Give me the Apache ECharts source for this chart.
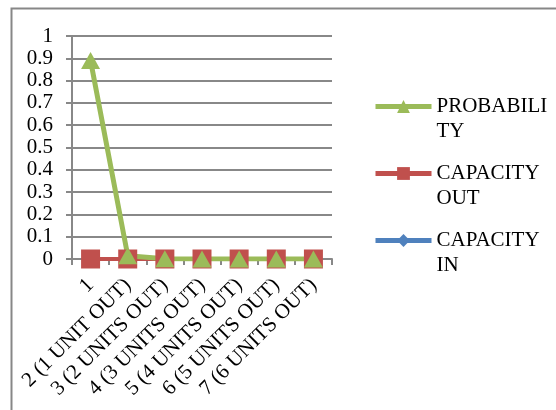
<!DOCTYPE html>
<html>
<head>
<meta charset="utf-8">
<script src="https://cdn.jsdelivr.net/npm/echarts@6/dist/echarts.min.js"></script>
<style>html,body{margin:0;padding:0;background:#fff;}#c{width:556px;height:410px;}</style>
</head>
<body>
<div id="c"></div>
<script>
var categories = ['1', '2 (1 UNIT OUT)', '3 (2 UNITS OUT)', '4 (3 UNITS OUT)', '5 (4 UNITS OUT)', '6 (5 UNITS OUT)', '7 (6 UNITS OUT)'];
var probability = [0.89, 0.015, 0.001, 0, 0, 0, 0];
var capacityOut = [0, 0, 0, 0, 0, 0, 0];
var capacityIn = [0, 0, 0, 0, 0, 0, 0];
var seriesNames = ['PROBABILITY', 'CAPACITY OUT', 'CAPACITY IN'];
var legendLabels = { 'PROBABILITY': '\nPROBABILI\nTY', 'CAPACITY OUT': '\nCAPACITY\nOUT', 'CAPACITY IN': '\nCAPACITY\nIN' };

var font = 'Liberation Serif';
var chart = echarts.init(document.getElementById('c'));
chart.setOption({
  animation: false,
  backgroundColor: '#fff',
  graphic: [{
    type: 'rect', left: 9, top: 6, z: -1,
    shape: { width: 600, height: 500 },
    style: { fill: 'none', stroke: '#878787', lineWidth: 2 }
  }],
  grid: { left: 72, right: 224, top: 36, bottom: 151, containLabel: false },
  legend: {
    orient: 'vertical',
    left: 368,
    top: 64,
    itemWidth: 56,
    itemHeight: 16,
    itemGap: -8,
    data: seriesNames,
    formatter: function (n) { return legendLabels[n]; },
    lineStyle: { width: 5 },
    textStyle: { fontFamily: font, fontSize: 21, color: '#000', lineHeight: 25 }
  },
  xAxis: {
    type: 'category',
    data: categories,
    boundaryGap: true,
    axisLine: { lineStyle: { color: '#888', width: 2 } },
    axisTick: { show: true, length: 6, lineStyle: { color: '#888', width: 2 } },
    axisLabel: { rotate: 45, margin: 23, fontFamily: font, fontSize: 21, color: '#000', interval: 0 },
    splitLine: { show: false }
  },
  yAxis: {
    type: 'value', min: 0, max: 1, interval: 0.1,
    axisLine: { show: true, lineStyle: { color: '#888', width: 2 } },
    axisTick: { show: true, length: 6, lineStyle: { color: '#888', width: 2 } },
    axisLabel: { margin: 19, fontFamily: font, fontSize: 21, color: '#000' },
    splitLine: { show: true, lineStyle: { color: '#888', width: 2 } }
  },
  series: [
    { name: 'CAPACITY IN', type: 'line', data: capacityIn, symbol: 'diamond', symbolSize: 16,
      itemStyle: { color: '#4F81BD' }, lineStyle: { color: '#4F81BD', width: 4 } },
    { name: 'CAPACITY OUT', type: 'line', data: capacityOut, symbol: 'rect', symbolSize: 19,
      itemStyle: { color: '#C0504D' }, lineStyle: { color: '#C0504D', width: 4 } },
    { name: 'PROBABILITY', type: 'line', data: probability, symbol: 'triangle', symbolSize: [19, 17],
      itemStyle: { color: '#9BBB59' }, lineStyle: { color: '#9BBB59', width: 5 } }
  ]
});
</script>
</body>
</html>
